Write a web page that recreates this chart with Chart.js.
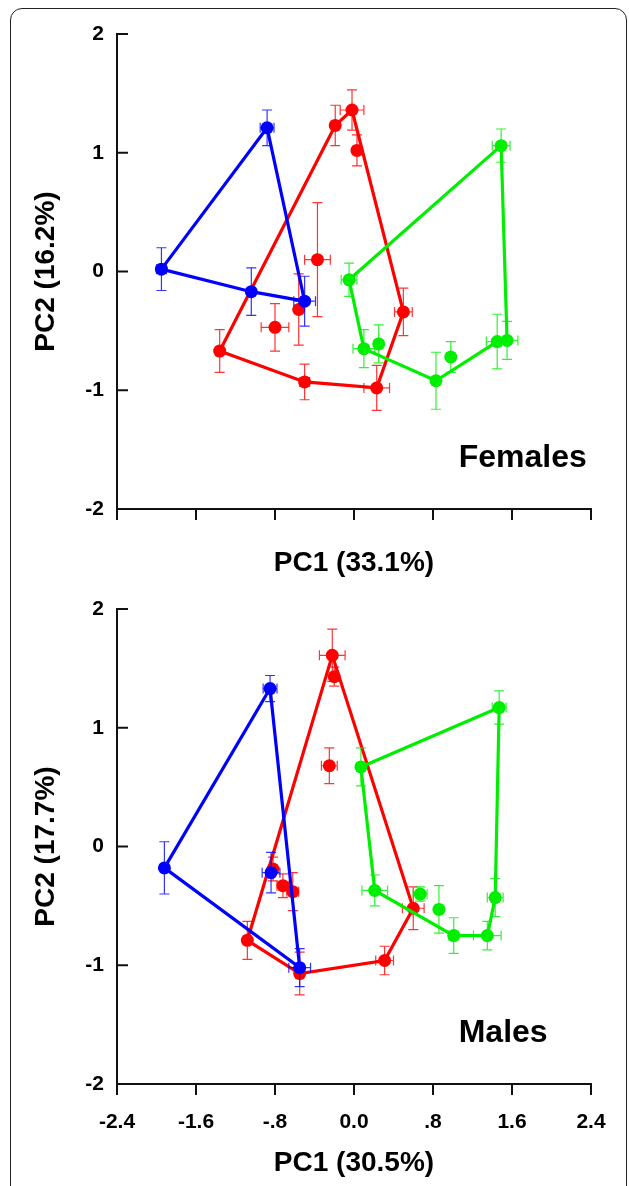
<!DOCTYPE html>
<html>
<head>
<meta charset="utf-8">
<script src="https://cdn.jsdelivr.net/npm/chart.js@4.4.1/dist/chart.umd.min.js"></script>
<style>
  html, body { margin: 0; padding: 0; background: #fff; overflow: hidden; }
  body { width: 629px; height: 1186px; position: relative; }
  .frame {
    position: absolute; left: 10px; top: 8px; width: 617px; height: 1300px;
    border: 1.5px solid #222; border-radius: 12px; box-sizing: border-box;
  }
  .panel { position: absolute; left: 0; width: 629px; }
  #top { top: 0; height: 590px; }
  #bottom { top: 590px; height: 596px; }
</style>
</head>
<body>
<div class="frame"></div>
<div class="panel" id="top"><canvas id="femalesChart"></canvas></div>
<div class="panel" id="bottom"><canvas id="malesChart"></canvas></div>
<script>
// each row: [PC1, PC2, PC1 error, PC2 error]
const femalesBlue = [
  [-1.95, 0.02, 0.05, 0.18],
  [-0.88, 1.21, 0.07, 0.15],
  [-1.04, -0.17, 0.03, 0.20],
  [-0.50, -0.25, 0.11, 0.21]
];
const femalesBlueHull = [0, 1, 3, 2, 0];

const femalesRed = [
  [-1.36, -0.67, 0.04, 0.18],
  [-0.19, 1.23, 0.04, 0.17],
  [-0.02, 1.36, 0.12, 0.17],
  [0.50, -0.34, 0.09, 0.20],
  [0.23, -0.98, 0.13, 0.19],
  [-0.50, -0.93, 0.05, 0.15],
  [0.03, 1.02, 0.04, 0.13],
  [-0.37, 0.10, 0.13, 0.48],
  [-0.80, -0.47, 0.14, 0.20],
  [-0.56, -0.32, 0.04, 0.30]
];
const femalesRedHull = [0, 1, 2, 3, 4, 5, 0];

const femalesGreen = [
  [-0.05, -0.07, 0.08, 0.14],
  [1.49, 1.06, 0.09, 0.14],
  [1.55, -0.58, 0.11, 0.16],
  [1.45, -0.59, 0.11, 0.23],
  [0.83, -0.92, 0.04, 0.24],
  [0.10, -0.65, 0.11, 0.16],
  [0.25, -0.61, 0.04, 0.16],
  [0.98, -0.72, 0.04, 0.13]
];
const femalesGreenHull = [0, 1, 2, 3, 4, 5, 0];

const malesBlue = [
  [-1.92, -0.18, 0.03, 0.22],
  [-0.85, 1.33, 0.07, 0.11],
  [-0.55, -1.02, 0.11, 0.16],
  [-0.84, -0.22, 0.09, 0.17]
];
const malesBlueHull = [0, 1, 2, 0];

const malesRed = [
  [-1.08, -0.79, 0.04, 0.16],
  [-0.22, 1.61, 0.13, 0.22],
  [0.60, -0.52, 0.11, 0.18],
  [0.31, -0.96, 0.09, 0.12],
  [-0.55, -1.07, 0.04, 0.18],
  [-0.20, 1.43, 0.04, 0.08],
  [-0.25, 0.68, 0.08, 0.15],
  [-0.82, -0.19, 0.04, 0.10],
  [-0.72, -0.33, 0.06, 0.10],
  [-0.62, -0.38, 0.06, 0.16]
];
const malesRedHull = [0, 1, 2, 3, 4, 0];

const malesGreen = [
  [0.07, 0.67, 0.04, 0.16],
  [1.47, 1.17, 0.07, 0.14],
  [1.43, -0.43, 0.08, 0.16],
  [1.35, -0.75, 0.14, 0.12],
  [1.01, -0.75, 0.05, 0.15],
  [0.21, -0.37, 0.13, 0.13],
  [0.67, -0.40, 0.07, 0.06],
  [0.86, -0.53, 0.04, 0.20]
];
const malesGreenHull = [0, 1, 2, 3, 4, 5, 0];

const xTickValues = [-2.4, -1.6, -0.8, 0, 0.8, 1.6, 2.4];
const xTickLabels = ['-2.4', '-1.6', '-.8', '0.0', '.8', '1.6', '2.4'];
const yTickValues = [-2, -1, 0, 1, 2];
const yTickLabels = ['-2', '-1', '0', '1', '2'];

const BLUE = '#0000ff';
const RED = '#ff0000';
const GREEN = '#00ee00';
const AXIS = '#111';
const FONT = "'Liberation Sans', Arial, sans-serif";

Chart.defaults.font.family = FONT;
Chart.defaults.color = '#000';

// horizontal + vertical error bars with caps, drawn under each dataset's markers
const errorBars = {
  id: 'errorBars',
  beforeDatasetDraw(chart, args) {
    const ds = chart.data.datasets[args.index];
    if (!ds.errors) return;
    const { ctx, scales: { x, y } } = chart;
    const cap = 5;
    ctx.save();
    ctx.strokeStyle = ds.borderColor;
    ctx.globalAlpha = 0.8;
    ctx.lineWidth = 1.2;
    ds.data.forEach((p, i) => {
      const [ex, ey] = ds.errors[i];
      const px = x.getPixelForValue(p.x), py = y.getPixelForValue(p.y);
      const x0 = x.getPixelForValue(p.x - ex), x1 = x.getPixelForValue(p.x + ex);
      const y0 = y.getPixelForValue(p.y - ey), y1 = y.getPixelForValue(p.y + ey);
      ctx.beginPath();
      ctx.moveTo(x0, py); ctx.lineTo(x1, py);
      ctx.moveTo(x0, py - cap); ctx.lineTo(x0, py + cap);
      ctx.moveTo(x1, py - cap); ctx.lineTo(x1, py + cap);
      ctx.moveTo(px, y0); ctx.lineTo(px, y1);
      ctx.moveTo(px - cap, y0); ctx.lineTo(px + cap, y0);
      ctx.moveTo(px - cap, y1); ctx.lineTo(px + cap, y1);
      ctx.stroke();
    });
    ctx.restore();
  }
};

// inward y ticks and the panel name
const panelDecor = {
  id: 'panelDecor',
  afterDraw(chart, args, opts) {
    const { ctx, scales: { x, y } } = chart;
    ctx.save();
    ctx.strokeStyle = AXIS;
    ctx.lineWidth = 2;
    ctx.beginPath();
    y.ticks.forEach(t => {
      const py = y.getPixelForValue(t.value);
      ctx.moveTo(x.left, py);
      ctx.lineTo(x.left + 11, py);
    });
    ctx.stroke();
    ctx.fillStyle = '#000';
    ctx.font = 'bold 32px ' + FONT;
    ctx.textAlign = 'left';
    ctx.textBaseline = 'alphabetic';
    ctx.fillText(opts.text, x.getPixelForValue(opts.x), y.getPixelForValue(opts.y));
    ctx.restore();
  }
};

function toPoints(rows) {
  return rows.map(r => ({ x: r[0], y: r[1] }));
}

function groupDatasets(rows, hull, color, order) {
  return [
    {
      data: toPoints(hull.map(i => rows[i])),
      showLine: true,
      borderColor: color,
      borderWidth: 3.2,
      pointRadius: 0,
      order: order + 0.5
    },
    {
      data: toPoints(rows),
      errors: rows.map(r => [r[2], r[3]]),
      showLine: false,
      borderColor: color,
      backgroundColor: color,
      pointRadius: 6.5,
      pointBorderWidth: 0,
      order: order
    }
  ];
}

function makePanel(id, groups, cfg) {
  const datasets = [];
  groups.forEach(([rows, hull, color], k) => {
    datasets.push(...groupDatasets(rows, hull, color, k));
  });
  return new Chart(document.getElementById(id), {
    type: 'scatter',
    data: { datasets },
    plugins: [errorBars, panelDecor],
    options: {
      responsive: true,
      maintainAspectRatio: false,
      animation: false,
      events: [],
      layout: { padding: cfg.padding },
      plugins: {
        legend: { display: false },
        tooltip: { enabled: false },
        panelDecor: { text: cfg.label, x: 1.06, y: -1.65 }
      },
      scales: {
        x: {
          type: 'linear',
          min: -2.4,
          max: 2.4,
          afterBuildTicks: s => { s.ticks = xTickValues.map(v => ({ value: v })); },
          afterFit: s => { s.height = cfg.xHeight; s.paddingLeft = 0; s.paddingRight = 0; },
          ticks: {
            display: cfg.xLabels,
            callback: (v, i) => xTickLabels[i],
            font: { size: 21, weight: 'bold' },
            color: '#000',
            padding: 15,
            maxRotation: 0,
            autoSkip: false
          },
          grid: { drawOnChartArea: false, drawTicks: true, tickLength: 11, color: AXIS, lineWidth: 2 },
          border: { color: AXIS, width: 2 },
          title: { display: true, text: cfg.xTitle, font: { size: 28, weight: 'bold' }, color: '#000', padding: 0 }
        },
        y: {
          type: 'linear',
          min: -2,
          max: 2,
          afterBuildTicks: s => { s.ticks = yTickValues.map(v => ({ value: v })); },
          afterFit: s => { s.width = 117; s.paddingTop = 0; s.paddingBottom = 0; },
          ticks: {
            callback: (v, i) => yTickLabels[i],
            font: { size: 21, weight: 'bold' },
            color: '#000',
            padding: 13
          },
          grid: { drawOnChartArea: false, drawTicks: false },
          border: { color: AXIS, width: 2 },
          title: { display: true, text: cfg.yTitle, font: { size: 28, weight: 'bold' }, color: '#000', padding: { top: 29, bottom: 0 } }
        }
      }
    }
  });
}

makePanel('femalesChart',
  [[femalesBlue, femalesBlueHull, BLUE], [femalesGreen, femalesGreenHull, GREEN], [femalesRed, femalesRedHull, RED]],
  { label: 'Females', xTitle: 'PC1 (33.1%)', yTitle: 'PC2 (16.2%)', xLabels: false, xHeight: 71,
    padding: { top: 34, right: 38, bottom: 10, left: 0 } });

makePanel('malesChart',
  [[malesBlue, malesBlueHull, BLUE], [malesGreen, malesGreenHull, GREEN], [malesRed, malesRedHull, RED]],
  { label: 'Males', xTitle: 'PC1 (30.5%)', yTitle: 'PC2 (17.7%)', xLabels: true, xHeight: 96,
    padding: { top: 19, right: 38, bottom: 6, left: 0 } });
</script>
</body>
</html>
